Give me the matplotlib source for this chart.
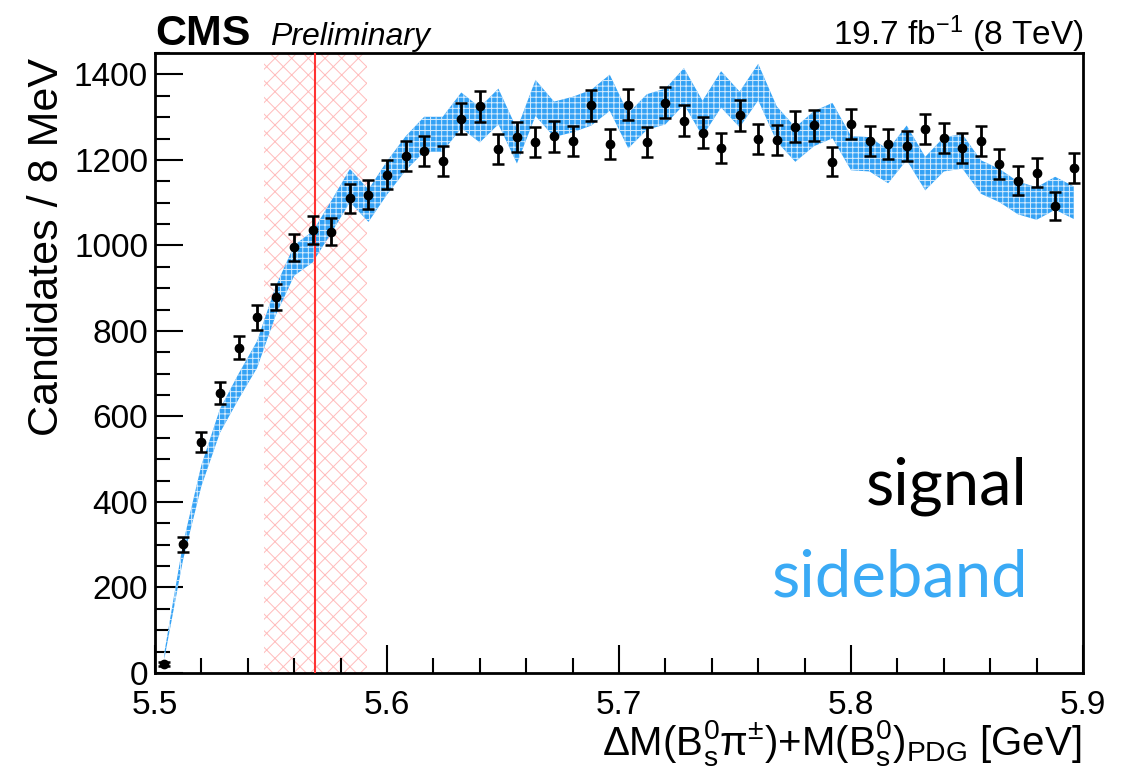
import numpy as np
import matplotlib.pyplot as plt

plt.rcParams['font.family'] = ['Liberation Sans', 'DejaVu Sans']
plt.rcParams['mathtext.fontset'] = 'custom'
plt.rcParams['mathtext.rm'] = 'Liberation Sans'
plt.rcParams['mathtext.it'] = 'Liberation Sans:italic'
plt.rcParams['mathtext.bf'] = 'Liberation Sans:bold'
plt.rcParams['hatch.linewidth'] = 0.7

# binning: 8 MeV bins between 5.5 and 5.9 GeV
edges = np.linspace(5.5, 5.9, 51)
centers = 0.5 * (edges[:-1] + edges[1:])

# signal-region candidates per bin
signal = [21, 301, 540, 654, 761, 832, 879, 996, 1036, 1032,
          1110, 1119, 1165, 1209, 1221, 1197, 1296, 1325, 1225, 1253,
          1242, 1255, 1245, 1328, 1238, 1329, 1242, 1334, 1292, 1264,
          1227, 1304, 1248, 1246, 1278, 1281, 1196, 1284, 1245, 1237,
          1233, 1272, 1251, 1227, 1244, 1191, 1151, 1170, 1093, 1181]

# scaled sideband distribution per bin and its uncertainty
sideband = [40, 282, 462, 590, 670, 745, 870, 965, 997, 1067,
            1140, 1093, 1158, 1215, 1260, 1260, 1316, 1282, 1325, 1232,
            1345, 1295, 1306, 1322, 1357, 1268, 1312, 1325, 1372, 1297,
            1365, 1318, 1382, 1284, 1236, 1273, 1292, 1216, 1213, 1185,
            1240, 1168, 1213, 1220, 1160, 1140, 1111, 1098, 1122, 1100]
sb_scale = 1.15

# B_s2* peak position and window
peak = 5.569
window = 0.0222

signal = np.array(signal, dtype=float)
sideband = np.array(sideband, dtype=float)
sb_err = sb_scale * np.sqrt(sideband)

fig = plt.figure(figsize=(11.21, 7.82), dpi=100)
ax = fig.add_axes([0.1383, 0.1394, 0.8278, 0.7928])

ax.axvspan(peak - window, peak + window, facecolor='none', edgecolor='#ffbcbc',
           hatch='xx', linewidth=0, zorder=1)
ax.axvline(peak, color='#ff3333', lw=1.5, zorder=4)

ax.fill_between(centers, sideband - sb_err, sideband + sb_err,
                facecolor='#34a2f5', edgecolor='#d6ecfd', hatch='+++', linewidth=0, zorder=3)

ax.errorbar(centers, signal, yerr=np.sqrt(signal), fmt='o', color='black', ms=6,
            elinewidth=2.0, capsize=4.5, capthick=1.8, zorder=5)

ax.set_xlim(5.5, 5.9)
ax.set_ylim(0, 1450)
ax.set_xticks([5.5, 5.6, 5.7, 5.8, 5.9])
ax.set_xticklabels(['5.5', '5.6', '5.7', '5.8', '5.9'])
ax.set_xticks(np.arange(5.5, 5.9001, 0.02), minor=True)
ax.set_yticks(np.arange(0, 1401, 200))
ax.set_yticks(np.arange(0, 1451, 50), minor=True)

ax.tick_params(which='both', direction='in', top=False, right=False, width=1.5, labelsize=24)
ax.tick_params(which='major', length=20)
ax.tick_params(which='minor', length=11)
ax.tick_params(axis='y', pad=5)
ax.tick_params(axis='x', pad=12)
for s in ax.spines.values():
    s.set_linewidth(2.0)

ax.text(0.9407, 0.271, 'signal', transform=ax.transAxes, ha='right', va='baseline',
        fontsize=47, family=['Lato', 'DejaVu Sans'], color='black')
ax.text(0.9407, 0.1226, 'sideband', transform=ax.transAxes, ha='right', va='baseline',
        fontsize=47, family=['Lato', 'DejaVu Sans'], color='#3aaaf5')

fig.text(155 / 1121, 1 - 45 / 782, 'CMS', weight='bold', fontsize=31, ha='left', va='baseline')
fig.text(270 / 1121, 1 - 45 / 782, 'Preliminary', style='italic', fontsize=23, ha='left', va='baseline')
fig.text(1083 / 1121, 1 - 45 / 782, r'19.7 fb$^{\mathrm{-1}}$ (8 TeV)', fontsize=24,
         ha='right', va='baseline')

fig.text(1081 / 1121, 1 - 755 / 782,
         r'$\Delta$M(B$_{\mathrm{s}}^{0}\mathrm{\pi}^{\pm}$)+M(B$_{\mathrm{s}}^{0}$)$_{\mathrm{PDG}}$ [GeV]',
         fontsize=29, ha='right', va='baseline')
fig.text(47 / 1121, 1 - 58 / 782, 'Candidates / 8 MeV', rotation=90, fontsize=31,
         ha='center', va='top')

fig.savefig('out.png', dpi=100)
